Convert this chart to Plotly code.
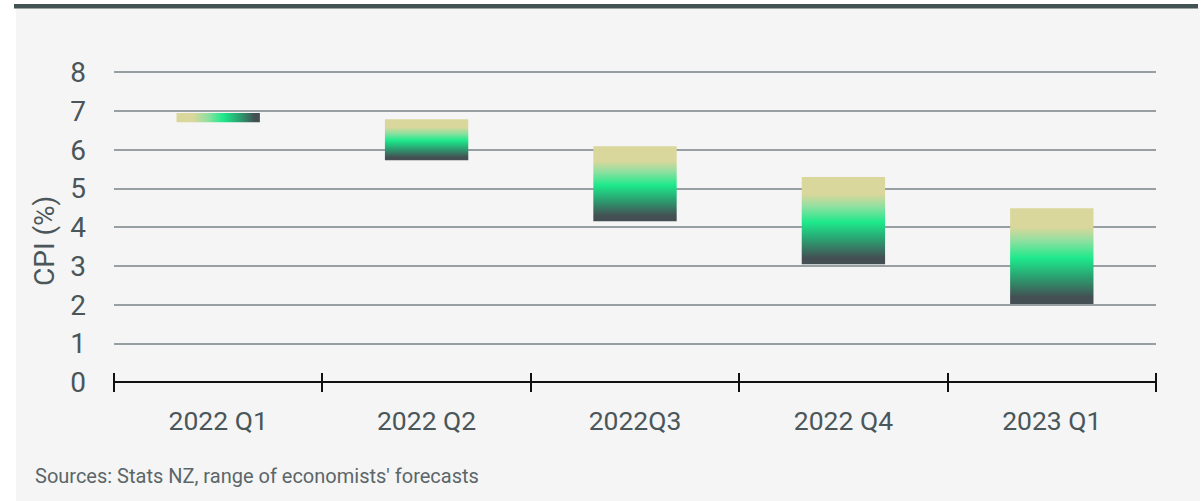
import plotly.graph_objects as go

# Quarterly CPI (%) ranges: actual / economists' forecast spread
quarters = ["2022 Q1", "2022 Q2", "2022Q3", "2022 Q4", "2023 Q1"]
cpi_low = [6.71, 5.73, 4.16, 3.05, 2.02]
cpi_high = [6.95, 6.79, 6.09, 5.30, 4.49]

# gradient direction for each range box
gradient_dir = ["horizontal", "vertical", "vertical", "vertical", "vertical"]

KHAKI = "#d9d79b"
GREEN = "#1de98b"
MIDGREEN = "#2b9f70"
DARK = "#434f53"
TEXT = "#4a5659"

# colour ramps: low value -> high value along the gradient axis
vertical_scale = [[0, DARK], [0.07, DARK], [0.28, MIDGREEN], [0.48, GREEN],
                  [0.66, "#8fe0a0"], [0.8, KHAKI], [1, KHAKI]]
horizontal_scale = [[0, KHAKI], [0.2, KHAKI], [0.38, "#8fe0a0"], [0.56, GREEN],
                    [0.76, MIDGREEN], [0.94, DARK], [1, DARK]]

W, H = 1203, 501
L, R, T, B = 114, 47, 53, 109
PW, PH = W - L - R, H - T - B


def px_x(px):
    return (px - L) / PW


def px_y(py):
    return (H - B - py) / PH


fig = go.Figure()
box_w = 0.4
for i, (lo, hi) in enumerate(zip(cpi_low, cpi_high)):
    direction = gradient_dir[i]
    fig.add_trace(go.Scatter(
        x=[i - box_w / 2, i + box_w / 2, i + box_w / 2, i - box_w / 2, i - box_w / 2],
        y=[lo, lo, hi, hi, lo],
        mode="lines",
        fill="toself",
        fillgradient=dict(
            type=direction,
            colorscale=vertical_scale if direction == "vertical" else horizontal_scale,
        ),
        line=dict(width=0, color="rgba(0,0,0,0)"),
        hoverinfo="skip",
        showlegend=False,
    ))

fig.update_layout(
    width=W, height=H,
    margin=dict(l=L, r=R, t=T, b=B),
    paper_bgcolor="#f5f5f5",
    plot_bgcolor="rgba(0,0,0,0)",
    font=dict(family="Roboto", color=TEXT),
    showlegend=False,
    xaxis=dict(
        range=[-0.5, len(quarters) - 0.5],
        tickvals=list(range(len(quarters))),
        ticktext=quarters,
        ticks="",
        showgrid=False,
        zeroline=False,
        showline=False,
        tickfont=dict(size=26.5, color=TEXT),
        ticklabelstandoff=10,
        minor=dict(ticks="inside", tick0=0.5, dtick=1, ticklen=19,
                   tickwidth=2, tickcolor="#111111", showgrid=False),
        fixedrange=True,
    ),
    yaxis=dict(
        range=[-0.25, 8.5],
        tickvals=list(range(0, 9)),
        ticks="",
        showgrid=True,
        gridcolor="#979fa2",
        gridwidth=1.5,
        zeroline=True,
        zerolinecolor="#111111",
        zerolinewidth=2,
        showline=False,
        tickfont=dict(size=28, color=TEXT),
        ticklabelstandoff=27,
        fixedrange=True,
    ),
    shapes=[
        # white page margins around the grey panel
        dict(type="rect", xref="paper", yref="paper", layer="below",
             x0=px_x(0), x1=px_x(16), y0=px_y(H), y1=px_y(0),
             fillcolor="white", line=dict(width=0)),
        dict(type="rect", xref="paper", yref="paper", layer="below",
             x0=px_x(1200), x1=px_x(W), y0=px_y(H), y1=px_y(0),
             fillcolor="white", line=dict(width=0)),
        dict(type="rect", xref="paper", yref="paper", layer="below",
             x0=px_x(0), x1=px_x(W), y0=px_y(8), y1=px_y(0),
             fillcolor="white", line=dict(width=0)),
        # dark header rule
        dict(type="rect", xref="paper", yref="paper", layer="below",
             x0=px_x(14), x1=px_x(1198), y0=px_y(8.5), y1=px_y(4),
             fillcolor="#435254", line=dict(width=0)),
    ],
    annotations=[
        dict(text="CPI (%)", textangle=-90, xref="paper", yref="paper",
             x=px_x(44), y=px_y(241), xanchor="center", yanchor="middle",
             showarrow=False, font=dict(size=28, color=TEXT)),
        dict(text="Sources: Stats NZ, range of economists' forecasts",
             xref="paper", yref="paper", x=px_x(33), y=px_y(476),
             xanchor="left", yanchor="middle", showarrow=False,
             font=dict(size=20, color="#5b6669")),
    ],
)

fig.write_html("out.html")
